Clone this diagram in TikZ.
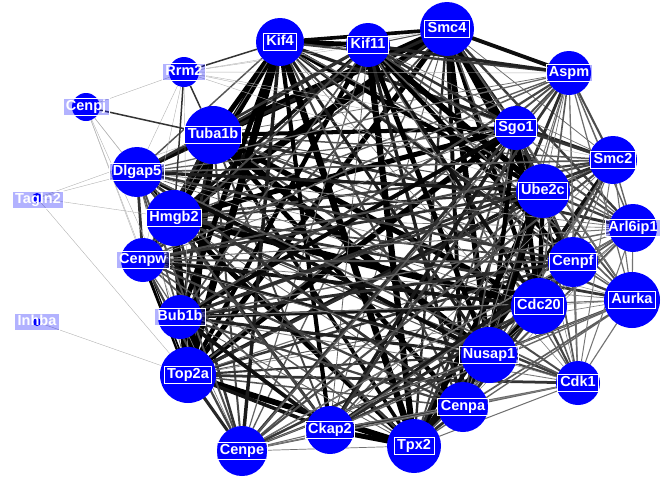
\documentclass[tikz,border=0pt]{standalone}
\usepackage{fontspec}
\setmainfont{Liberation Sans}
\usetikzlibrary{backgrounds}

\begin{document}
\begin{tikzpicture}[
    x=1pt, y=-1pt,
    gene/.style={circle, fill=blue, inner sep=0pt},
    tag/.style={draw=white, line width=0.7pt, fill=blue,
                fill opacity=0.3, text opacity=1, text=white,
                inner xsep=3pt, inner ysep=2pt,
                text height=10.5pt, text depth=3pt,
                font=\bfseries\fontsize{14.5}{14.5}\selectfont},
    tie/.style={line cap=round},
    faint/.style={gray!60, line width=0.4pt},
    mid/.style={gray!40!black, line width=1.5pt},
]
\useasboundingbox (0,0) rectangle (672,480);

% Genes (circle size follows degree)
\node[gene, minimum size=48pt] (kif4)    at (280,42)  {};
\node[gene, minimum size=44pt] (kif11)   at (368,45)  {};
\node[gene, minimum size=54pt] (smc4)    at (447,29)  {};
\node[gene, minimum size=44pt] (aspm)    at (569,73)  {};
\node[gene, minimum size=30pt] (rrm2)    at (184,72)  {};
\node[gene, minimum size=28pt] (cenpj)   at (86,107)  {};
\node[gene, minimum size=44pt] (sgo1)    at (516,128) {};
\node[gene, minimum size=58pt] (tuba1b)  at (213,135) {};
\node[gene, minimum size=48pt] (smc2)    at (613,160) {};
\node[gene, minimum size=50pt] (dlgap5)  at (137,172) {};
\node[gene, minimum size=54pt] (ube2c)   at (543,191) {};
\node[gene, minimum size=10pt] (tagln2)  at (37,198)  {};
\node[gene, minimum size=56pt] (hmgb2)   at (174,218) {};
\node[gene, minimum size=48pt] (arl6ip1) at (633,228) {};
\node[gene, minimum size=44pt] (cenpw)   at (143,260) {};
\node[gene, minimum size=50pt] (cenpf)   at (573,262) {};
\node[gene, minimum size=56pt] (aurka)   at (632,300) {};
\node[gene, minimum size=56pt] (cdc20)   at (539,306) {};
\node[gene, minimum size=44pt] (bub1b)   at (180,317) {};
\node[gene, minimum size=8pt]  (inhba)   at (37,322)  {};
\node[gene, minimum size=56pt] (nusap1)  at (489,355) {};
\node[gene, minimum size=56pt] (top2a)   at (188,375) {};
\node[gene, minimum size=44pt] (cdk1)    at (578,383) {};
\node[gene, minimum size=50pt] (cenpa)   at (463,407) {};
\node[gene, minimum size=48pt] (ckap2)   at (330,430) {};
\node[gene, minimum size=54pt] (tpx2)    at (414,446) {};
\node[gene, minimum size=50pt] (cenpe)   at (242,451) {};

% Gene labels
\node[tag] (kif4t)    at (kif4)    {Kif4};
\node[tag] (kif11t)   at (kif11)   {Kif11};
\node[tag] (smc4t)    at (smc4)    {Smc4};
\node[tag] (aspmt)    at (aspm)    {Aspm};
\node[tag] (rrm2t)    at (rrm2)    {Rrm2};
\node[tag] (cenpjt)   at (cenpj)   {Cenpj};
\node[tag] (sgo1t)    at (sgo1)    {Sgo1};
\node[tag] (tuba1bt)  at (tuba1b)  {Tuba1b};
\node[tag] (smc2t)    at (smc2)    {Smc2};
\node[tag] (dlgap5t)  at (dlgap5)  {Dlgap5};
\node[tag] (ube2ct)   at (ube2c)   {Ube2c};
\node[tag] (tagln2t)  at (38,200)  {Tagln2};
\node[tag] (hmgb2t)   at (hmgb2)   {Hmgb2};
\node[tag] (arl6ip1t) at (arl6ip1) {Arl6ip1};
\node[tag] (cenpwt)   at (cenpw)   {Cenpw};
\node[tag] (cenpft)   at (cenpf)   {Cenpf};
\node[tag] (aurkat)   at (aurka)   {Aurka};
\node[tag] (cdc20t)   at (cdc20)   {Cdc20};
\node[tag] (bub1bt)   at (bub1b)   {Bub1b};
\node[tag] (inhbat)   at (inhba)   {Inhba};
\node[tag] (nusap1t)  at (nusap1)  {Nusap1};
\node[tag] (top2at)   at (top2a)   {Top2a};
\node[tag] (cdk1t)    at (cdk1)    {Cdk1};
\node[tag] (cenpat)   at (cenpa)   {Cenpa};
\node[tag] (ckap2t)   at (ckap2)   {Ckap2};
\node[tag] (tpx2t)    at (tpx2)    {Tpx2};
\node[tag] (cenpet)   at (cenpe)   {Cenpe};

% Core interactions: weight from both genes' strength
\def\corelist{smc4/1.0, tuba1b/1.0, hmgb2/1.0, top2a/0.95,
  kif4/0.9, tpx2/0.9, kif11/0.85, ube2c/0.85, nusap1/0.85,
  cdc20/0.8, sgo1/0.75, bub1b/0.7, ckap2/0.7, cenpf/0.65,
  cenpa/0.6, dlgap5/0.6, cenpw/0.6, cenpe/0.5, smc2/0.55,
  aspm/0.5, arl6ip1/0.38, aurka/0.36, cdk1/0.38}
\begin{scope}[on background layer]
  \foreach \a/\sa [count=\i] in \corelist {
    \foreach \b/\sb [count=\j] in \corelist {
      \ifnum\j>\i
        \pgfmathsetmacro\hh{mod(\i*7+\j*11,6)/5}
        \pgfmathsetmacro\pw{\sa*\sb}
        \pgfmathsetmacro\lw{0.4+8*\pw^1.2*(0.1+0.9*\hh)}
        \pgfmathsetmacro\tone{min(100,40+110*\pw*(0.3+0.7*\hh))}
        \draw[tie, line width=\lw pt, black!\tone!white] (\a) -- (\b);
      \fi
    }
  }

  % Weak partners on the left
  \foreach \a/\b in {rrm2/kif11, rrm2/smc4, rrm2/aspm, rrm2/sgo1,
      rrm2/smc2, rrm2/ube2c, rrm2/dlgap5, rrm2/cenpw, rrm2/top2a,
      rrm2/cenpj, cenpj/dlgap5, cenpj/hmgb2, cenpj/cenpw,
      cenpj/bub1b, cenpj/top2a, tagln2/dlgap5, tagln2/tuba1b,
      tagln2/hmgb2, tagln2/top2a, inhba/top2a}
    \draw[faint] (\a) -- (\b);
  \foreach \a/\b in {rrm2/kif4, rrm2/tuba1b, rrm2/hmgb2,
      cenpj/tuba1b}
    \draw[mid] (\a) -- (\b);
\end{scope}

\end{tikzpicture}
\end{document}
